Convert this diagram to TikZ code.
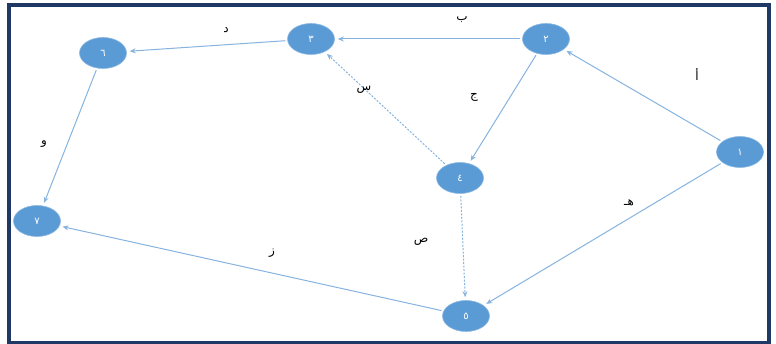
\documentclass[tikz,border=0pt]{standalone}
\usepackage{fontspec}
\usetikzlibrary{arrows.meta,shapes.geometric}
\newfontfamily\arabicfont[Script=Arabic]{DejaVu Sans}
\TeXXeTstate=1
\definecolor{nodeblue}{HTML}{5B9BD5}
\definecolor{edgeblue}{HTML}{86B3DF}
\definecolor{framenavy}{HTML}{1F3864}

\begin{document}
\begin{tikzpicture}[
  x=1pt, y=-1pt,
  vtx/.style={ellipse, draw=nodeblue!70!white, line width=0.6pt, fill=nodeblue,
    minimum width=47pt, minimum height=31pt, inner sep=0pt,
    text=white, font=\arabicfont\fontsize{10}{10}\selectfont},
  lbl/.style={inner sep=1pt, font=\arabicfont\fontsize{12}{12}\selectfont},
  arc/.style={draw=edgeblue, line width=1pt, -{Stealth[length=6pt,width=5pt]},
    shorten <=2pt, shorten >=3pt},
  arcdash/.style={arc, dash pattern=on 2pt off 1.5pt},
]
\useasboundingbox (0,0) rectangle (776,344);

% --- frame ---
\draw[framenavy, line width=3.5pt] (9,5) rectangle (769,343);

% --- vertices ---
\node[vtx] (n1) at (740,152) {\beginR ١\endR};
\node[vtx] (n2) at (546,39) {\beginR ٢\endR};
\node[vtx] (n3) at (311,39) {\beginR ٣\endR};
\node[vtx] (n4) at (460,178) {\beginR ٤\endR};
\node[vtx] (n5) at (466,316) {\beginR ٥\endR};
\node[vtx] (n6) at (103,53) {\beginR ٦\endR};
\node[vtx] (n7) at (37,221) {\beginR ٧\endR};

% --- arcs ---
\draw[arc] (n1) -- (n2);
\draw[arc] (n2) -- (n3);
\draw[arc] (n2) -- (n4);
\draw[arc] (n3) -- (n6);
\draw[arc] (n1) -- (n5);
\draw[arc] (n6) -- (n7);
\draw[arc] (n5) -- (n7);
\draw[arcdash] (n4) -- (n3);
\draw[arcdash] (n4) -- (n5);

% --- arc labels ---
\node[lbl] (la) at (697,75) {\beginR أ\endR};
\node[lbl] (lb) at (462,20) {\beginR ب\endR};
\node[lbl] (lc) at (474,97) {\beginR ج\endR};
\node[lbl] (ld) at (226,30) {\beginR د\endR};
\node[lbl] (le) at (629,203) {\beginR هـ\endR};
\node[lbl] (lw) at (44,144) {\beginR و\endR};
\node[lbl] (lz) at (272,253) {\beginR ز\endR};
\node[lbl] (ls) at (364,90) {\beginR س\endR};
\node[lbl] (lt) at (421,242) {\beginR ص\endR};
\end{tikzpicture}
\end{document}
